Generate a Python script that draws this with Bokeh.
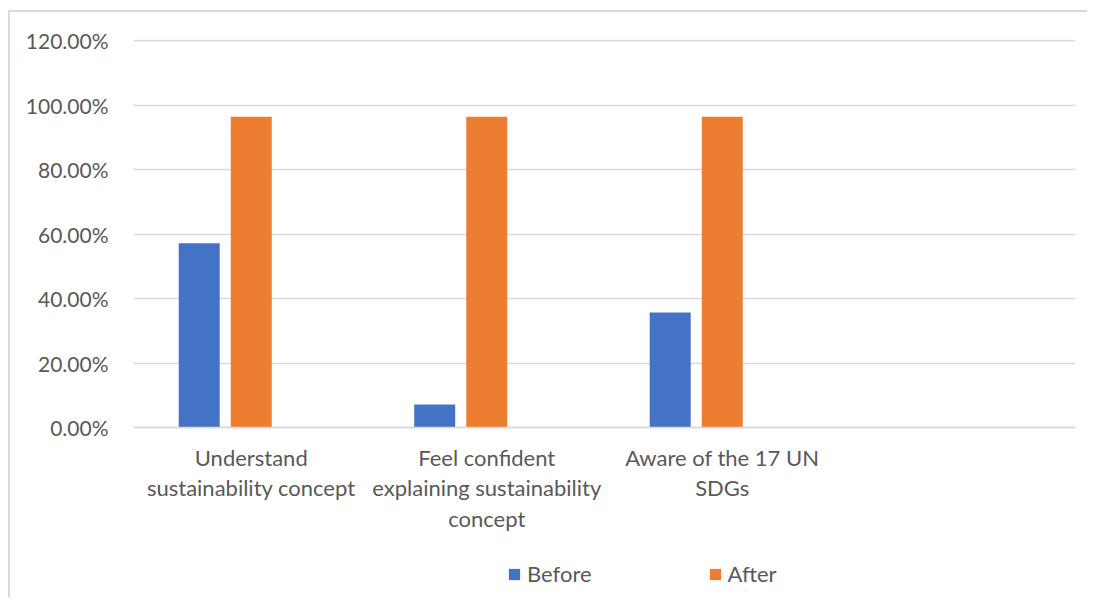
from bokeh.plotting import figure
from bokeh.models import (FactorRange, Range1d, NumeralTickFormatter, Legend,
                          LegendItem, ColumnDataSource)
from bokeh.transform import dodge
from bokeh.embed import file_html
from bokeh.resources import INLINE

# ---- data ----
categories = ["Understand\nsustainability concept",
              "Feel confident\nexplaining sustainability\nconcept",
              "Aware of the 17 UN\nSDGs"]
empty_slot = [" "]
before = [0.5714, 0.0714, 0.3571]
after = [0.9643, 0.9643, 0.9643]
series = ["Before", "After"]
y_ticks = [0.0, 0.2, 0.4, 0.6, 0.8, 1.0, 1.2]

FONT = "Lato"
TEXT = "#595959"
GRID = "#d9d9d9"
BLUE = "#4472C4"
ORANGE = "#ED7D31"

src = ColumnDataSource(dict(cat=categories, before=before, after=after))

# lower part of the frame (below 0) holds the category labels and legend
p = figure(x_range=FactorRange(factors=categories + empty_slot, range_padding=0),
           y_range=Range1d(-0.5337, 1.204),
           width=1079, height=587,
           output_backend="svg", toolbar_location=None,
           min_border_left=123, min_border_right=14,
           min_border_top=27, min_border_bottom=0,
           styles={"margin-left": "8px", "margin-top": "10px",
                   "border-left": "2px solid #d9d9d9",
                   "border-top": "2px solid #d9d9d9"})

r1 = p.vbar(x=dodge("cat", -0.221, range=p.x_range), top="before", width=0.174,
            source=src, fill_color=BLUE, line_color=None)
r2 = p.vbar(x=dodge("cat", 0.0, range=p.x_range), top="after", width=0.174,
            source=src, fill_color=ORANGE, line_color=None)

p.outline_line_color = None
p.xgrid.grid_line_color = None
p.ygrid.grid_line_color = GRID
p.ygrid.grid_line_width = 1.5

p.yaxis.ticker = y_ticks
p.ygrid.ticker = y_ticks
p.yaxis.formatter = NumeralTickFormatter(format="0.00%")
p.yaxis.axis_line_color = None
p.yaxis.major_tick_line_color = None
p.yaxis.minor_tick_line_color = None
p.yaxis.major_label_standoff = 19
p.yaxis.major_label_text_font = FONT
p.yaxis.major_label_text_font_size = "21px"
p.yaxis.major_label_text_color = TEXT

p.xaxis.fixed_location = 0
p.xaxis.axis_line_color = GRID
p.xaxis.axis_line_width = 1.5
p.xaxis.major_tick_line_color = None
p.xaxis.minor_tick_line_color = None
p.xaxis.major_label_standoff = 10
p.xaxis.major_label_text_font = FONT
p.xaxis.major_label_text_font_size = "22px"
p.xaxis.major_label_text_color = TEXT
p.xaxis.major_label_text_line_height = 1.14

legend = Legend(items=[LegendItem(label=series[0], renderers=[r1]),
                       LegendItem(label=series[1], renderers=[r2])],
                orientation="horizontal", location=(374, 12),
                glyph_width=14, glyph_height=14, label_standoff=6,
                spacing=116, padding=0, margin=0,
                border_line_color=None, background_fill_alpha=0,
                label_text_font=FONT, label_text_font_size="22px",
                label_text_color=TEXT)
p.add_layout(legend)

open("out.html", "w").write(file_html(p, INLINE))
